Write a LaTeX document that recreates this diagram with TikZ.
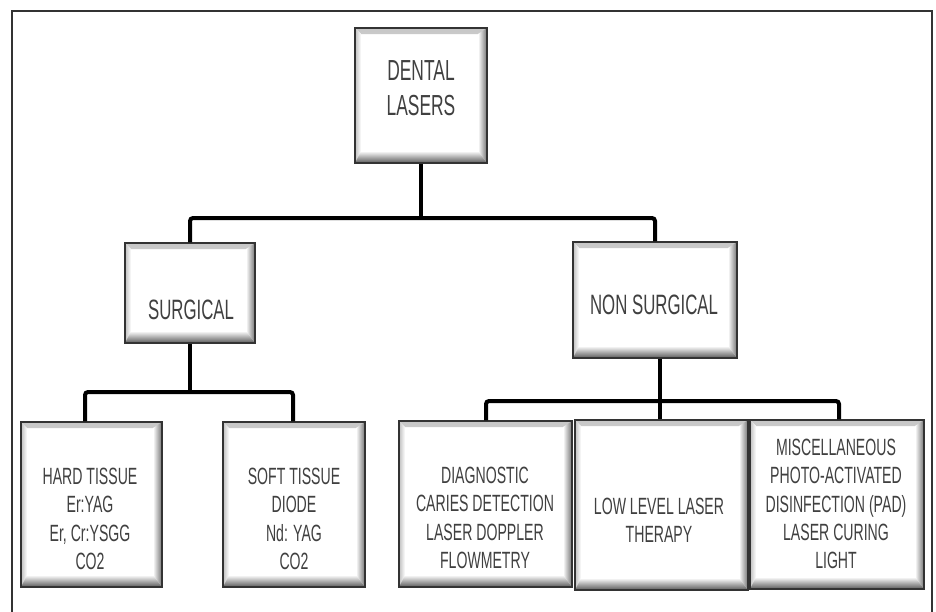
\documentclass[tikz,border=0pt]{standalone}
\usepackage{fontspec}
\newfontfamily\nsans{Liberation Sans}[FakeStretch=0.6]
\tikzset{
  bev/.style={draw=black!80, line width=1.5pt, fill=white, inner sep=0pt,
    path picture={
      \shade[top color=black!22, bottom color=white]
        (path picture bounding box.north west) -- (path picture bounding box.north east)
        -- ([shift={(-6pt,-6pt)}]path picture bounding box.north east)
        -- ([shift={(6pt,-6pt)}]path picture bounding box.north west) -- cycle;
      \shade[left color=black!25, right color=white]
        (path picture bounding box.north west) -- (path picture bounding box.south west)
        -- ([shift={(6pt,12pt)}]path picture bounding box.south west)
        -- ([shift={(6pt,-6pt)}]path picture bounding box.north west) -- cycle;
      \shade[left color=white, right color=black!55]
        (path picture bounding box.north east) -- (path picture bounding box.south east)
        -- ([shift={(-9pt,12pt)}]path picture bounding box.south east)
        -- ([shift={(-9pt,-6pt)}]path picture bounding box.north east) -- cycle;
      \shade[top color=white, bottom color=black!65]
        (path picture bounding box.south west) -- (path picture bounding box.south east)
        -- ([shift={(-9pt,12pt)}]path picture bounding box.south east)
        -- ([shift={(6pt,12pt)}]path picture bounding box.south west) -- cycle;
    }},
  ttxt/.style={align=center, text=black!75, inner sep=0pt, font=\nsans\fontsize{29}{35}\selectfont},
  mtxt/.style={align=center, text=black!75, inner sep=0pt, font=\nsans\fontsize{28}{33}\selectfont},
  btxt/.style={align=center, text=black!75, inner sep=0pt, font=\nsans\fontsize{23.5}{28.3}\selectfont},
  conn/.style={draw=black, line width=4pt, rounded corners=3pt},
  frame/.style={draw=black!80, line width=2.4pt},
}
\begin{document}
\begin{tikzpicture}[x=1pt,y=-1pt]
\useasboundingbox (0,0) rectangle (936,611);
% outer frame
\coordinate (fbl) at (12,613);
\coordinate (ftl) at (12,11);
\coordinate (ftr) at (932,11);
\coordinate (fbr) at (932,613);
\draw[frame] (fbl) -- (ftl) -- (ftr) -- (fbr);

% boxes
\node[bev, minimum width=132pt, minimum height=135pt] (dental) at (421,95.5) {};
\node[bev, minimum width=130pt, minimum height=100pt] (surg) at (190,293) {};
\node[bev, minimum width=164pt, minimum height=116pt] (nons) at (655,300) {};
\node[bev, minimum width=141pt, minimum height=165pt] (hard) at (91.5,504.5) {};
\node[bev, minimum width=142pt, minimum height=165pt] (soft) at (294,504.5) {};
\node[bev, minimum width=173pt, minimum height=166pt] (diag) at (485.5,504) {};
\node[bev, minimum width=173pt, minimum height=170pt] (low) at (661.5,505) {};
\node[bev, minimum width=174pt, minimum height=169pt] (misc) at (837,504.5) {};

% junction coordinates
\coordinate (bar1) at (421,218);
\coordinate (bar2) at (190,392);
\coordinate (hb) at (85,392);
\coordinate (sb) at (293,392);
\coordinate (bar3) at (660,401);
\coordinate (db) at (486,401);
\coordinate (mb) at (839,401);

% connectors
\draw[conn] (dental.south) -- (bar1);
\draw[conn] (surg.north) |- (bar1) -| (nons.north);
\draw[conn] (surg.south) -- (bar2);
\draw[conn] (hb |- hard.north) -- (hb) -- (sb) -- (sb |- soft.north);
\draw[conn] (bar3 |- nons.south) -- (bar3);
\draw[conn] (db |- diag.north) -- (db) -- (mb) -- (mb |- misc.north);
\draw[conn] (bar3) -- (bar3 |- low.north);

% texts
\node[ttxt] (dentalt) at (421,88.5) {DENTAL\\LASERS};
\node[mtxt] (surgt) at (191,310) {SURGICAL};
\node[mtxt] (nonst) at (654,305) {NON SURGICAL};
\node[btxt] (hardt) at (90,519) {HARD TISSUE\\Er:YAG\\Er, Cr:YSGG\\CO2};
\node[btxt] (softt) at (294,519) {SOFT TISSUE\\DIODE\\Nd: YAG\\CO2};
\node[btxt] (diagt) at (485,518) {DIAGNOSTIC\\CARIES DETECTION\\LASER DOPPLER\\FLOWMETRY};
\node[btxt] (lowt) at (659,520) {LOW LEVEL LASER\\THERAPY};
\node[btxt] (misct) at (836,504) {MISCELLANEOUS\\PHOTO-ACTIVATED\\DISINFECTION (PAD)\\LASER CURING\\LIGHT};
\end{tikzpicture}
\end{document}
